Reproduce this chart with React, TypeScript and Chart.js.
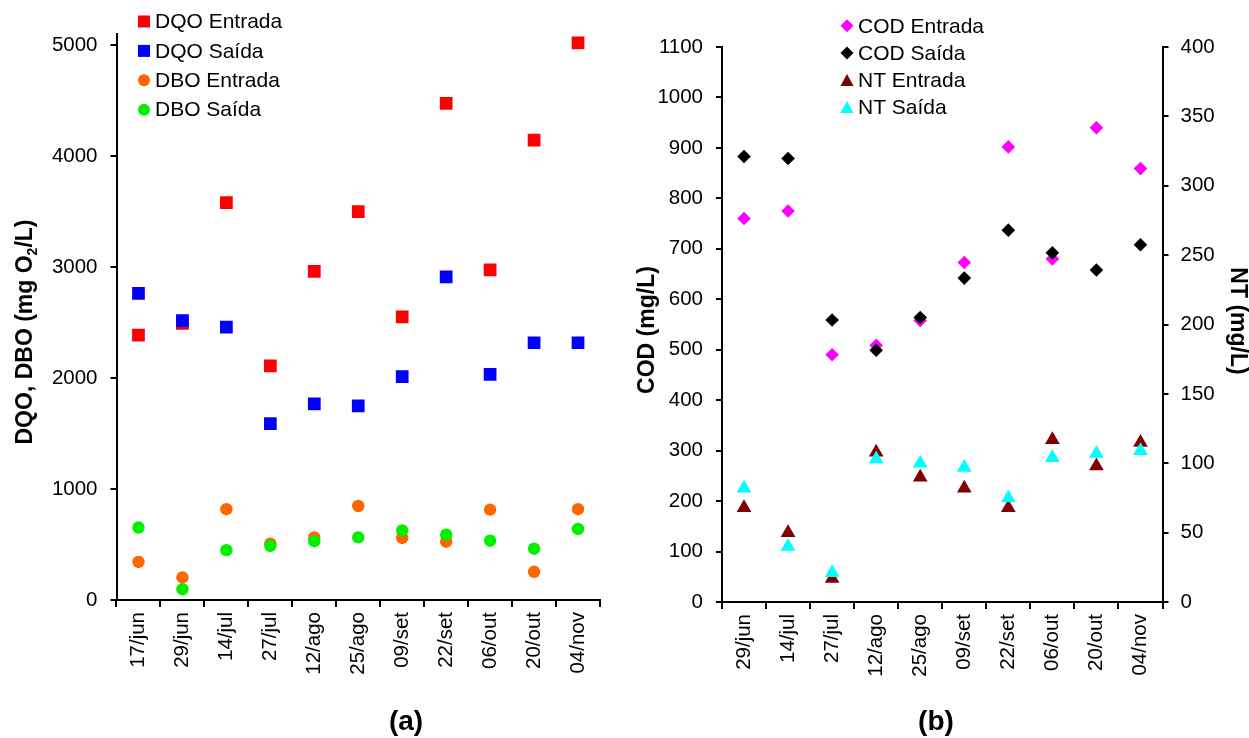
import React, { useEffect, useRef } from 'react';
import { Chart, registerables } from 'chart.js';

Chart.register(...registerables);

// ---------- Data: panel (a) ----------
const labelsA = ['17/jun', '29/jun', '14/jul', '27/jul', '12/ago', '25/ago', '09/set', '22/set', '06/out', '20/out', '04/nov'];
const dqoEntrada = [2386, 2492, 3581, 2110, 2962, 3500, 2551, 4475, 2975, 4144, 5021];
const dqoSaida = [2763, 2517, 2458, 1589, 1767, 1750, 2013, 2911, 2034, 2318, 2318];
const dboEntrada = [343, 203, 818, 508, 564, 847, 559, 525, 814, 254, 818];
const dboSaida = [653, 97, 449, 487, 530, 564, 627, 589, 534, 462, 640];
const yTicksA = [0, 1000, 2000, 3000, 4000, 5000];

// ---------- Data: panel (b) ----------
const labelsB = ['29/jun', '14/jul', '27/jul', '12/ago', '25/ago', '09/set', '22/set', '06/out', '20/out', '04/nov'];
const codEntrada = [760, 775, 490, 509, 558, 673, 902, 680, 940, 859];
const codSaida = [883, 879, 559, 499, 564, 642, 737, 692, 658, 708];
const ntEntrada = [68, 50, 17, 108, 90, 82, 68, 117, 98, 115];
const ntSaida = [82, 40, 21, 103, 100, 97, 75, 104, 107, 109];

const FONT = '"Liberation Sans", Arial, Helvetica, sans-serif';
const TICK_SIZE = 20.5;

type Marker = 'rect' | 'circle' | 'diamond' | 'triangle';

function drawMarker(ctx: CanvasRenderingContext2D, m: Marker, x: number, y: number, s: number, color: string) {
  ctx.save();
  ctx.fillStyle = color;
  ctx.beginPath();
  if (m === 'rect') ctx.rect(x - s / 2, y - s / 2, s, s);
  else if (m === 'circle') ctx.arc(x, y, s / 2, 0, Math.PI * 2);
  else if (m === 'diamond') {
    ctx.moveTo(x, y - s / 2);
    ctx.lineTo(x + s / 2, y);
    ctx.lineTo(x, y + s / 2);
    ctx.lineTo(x - s / 2, y);
    ctx.closePath();
  } else {
    ctx.moveTo(x, y - s / 2);
    ctx.lineTo(x + s * 0.55, y + s / 2);
    ctx.lineTo(x - s * 0.55, y + s / 2);
    ctx.closePath();
  }
  ctx.fill();
  ctx.restore();
}

type Part = { t: string; sub?: boolean };

function drawTitle(ctx: CanvasRenderingContext2D, parts: Part[], cx: number, cy: number, angle: number, size: number) {
  ctx.save();
  ctx.translate(cx, cy);
  ctx.rotate(angle);
  ctx.fillStyle = '#000';
  ctx.textBaseline = 'middle';
  ctx.textAlign = 'left';
  const mainFont = `bold ${size}px ${FONT}`;
  const subFont = `bold ${Math.round(size * 0.62)}px ${FONT}`;
  let total = 0;
  for (const p of parts) {
    ctx.font = p.sub ? subFont : mainFont;
    total += ctx.measureText(p.t).width;
  }
  let x = -total / 2;
  for (const p of parts) {
    ctx.font = p.sub ? subFont : mainFont;
    ctx.fillText(p.t, x, p.sub ? size * 0.3 : 0);
    x += ctx.measureText(p.t).width;
  }
  ctx.restore();
}

type LegendItem = { label: string; marker: Marker; color: string; size: number };

function drawLegend(ctx: CanvasRenderingContext2D, items: LegendItem[], mx: number, tx: number, y0: number, dy: number) {
  ctx.save();
  ctx.font = `21px ${FONT}`;
  ctx.fillStyle = '#000';
  ctx.textBaseline = 'middle';
  ctx.textAlign = 'left';
  items.forEach((it, i) => {
    const y = y0 + i * dy;
    drawMarker(ctx, it.marker, mx, y, it.size, it.color);
    ctx.fillStyle = '#000';
    ctx.fillText(it.label, tx, y + 1);
  });
  ctx.restore();
}

function axisCommon() {
  return {
    border: { display: true, color: '#000', width: 2 },
    grid: { display: true, drawOnChartArea: false, drawTicks: true, tickLength: 7, color: '#000', lineWidth: 2 },
  };
}

const plainNumber = (v: any) => String(v);

export default function App() {
  const refA = useRef<HTMLCanvasElement>(null);
  const refB = useRef<HTMLCanvasElement>(null);

  useEffect(() => {
    const tickFont = { family: FONT, size: TICK_SIZE };

    const legendA: LegendItem[] = [
      { label: 'DQO Entrada', marker: 'rect', color: '#FF0000', size: 12 },
      { label: 'DQO Saída', marker: 'rect', color: '#0000FF', size: 12 },
      { label: 'DBO Entrada', marker: 'circle', color: '#FF6600', size: 12 },
      { label: 'DBO Saída', marker: 'circle', color: '#00F000', size: 12 },
    ];

    const chartA = new Chart(refA.current as HTMLCanvasElement, {
      type: 'line',
      data: {
        labels: labelsA,
        datasets: [
          { label: 'DQO Entrada', data: dqoEntrada, showLine: false, pointStyle: 'rect', pointRadius: 9, pointBackgroundColor: '#FF0000', pointBorderWidth: 0, borderColor: '#FF0000', backgroundColor: '#FF0000', order: 4 },
          { label: 'DQO Saída', data: dqoSaida, showLine: false, pointStyle: 'rect', pointRadius: 9, pointBackgroundColor: '#0000FF', pointBorderWidth: 0, borderColor: '#0000FF', backgroundColor: '#0000FF', order: 3 },
          { label: 'DBO Entrada', data: dboEntrada, showLine: false, pointStyle: 'circle', pointRadius: 6.2, pointBackgroundColor: '#FF6600', pointBorderWidth: 0, borderColor: '#FF6600', backgroundColor: '#FF6600', order: 2 },
          { label: 'DBO Saída', data: dboSaida, showLine: false, pointStyle: 'circle', pointRadius: 6.2, pointBackgroundColor: '#00F000', pointBorderWidth: 0, borderColor: '#00F000', backgroundColor: '#00F000', order: 1 },
        ],
      },
      options: {
        responsive: false,
        animation: false,
        events: [],
        layout: { padding: { left: 0, right: 649, top: 34, bottom: 0 } },
        plugins: { legend: { display: false }, tooltip: { enabled: false } },
        scales: {
          x: {
            type: 'category',
            offset: true,
            ...axisCommon(),
            grid: { ...axisCommon().grid, offset: true },
            ticks: { minRotation: 90, maxRotation: 90, autoSkip: false, font: tickFont, color: '#000', padding: 5 },
            afterFit: (s: any) => { s.height = 138; },
          },
          y: {
            type: 'linear',
            min: 0,
            max: 5100,
            ...axisCommon(),
            grid: { ...axisCommon().grid, tickLength: 6 },
            ticks: { stepSize: 1000, font: tickFont, color: '#000', padding: 13, callback: plainNumber },
            afterBuildTicks: (s: any) => { s.ticks = yTicksA.map((v) => ({ value: v })); },
            afterFit: (s: any) => { s.width = 116.5; },
          },
        },
      },
      plugins: [
        {
          id: 'decorA',
          afterDraw(chart: any) {
            const ctx = chart.ctx as CanvasRenderingContext2D;
            drawLegend(ctx, legendA, 144, 155, 21.5, 29.4);
            drawTitle(ctx, [{ t: 'DQO, DBO (mg O' }, { t: '2', sub: true }, { t: '/L)' }], 26, 332, -Math.PI / 2, 23);
            drawTitle(ctx, [{ t: '(a)' }], 406, 722, 0, 28);
          },
        },
      ],
    } as any);

    const legendB: LegendItem[] = [
      { label: 'COD Entrada', marker: 'diamond', color: '#FF00FF', size: 13 },
      { label: 'COD Saída', marker: 'diamond', color: '#000000', size: 13 },
      { label: 'NT Entrada', marker: 'triangle', color: '#800000', size: 12 },
      { label: 'NT Saída', marker: 'triangle', color: '#00FFFF', size: 12 },
    ];

    const chartB = new Chart(refB.current as HTMLCanvasElement, {
      type: 'line',
      data: {
        labels: labelsB,
        datasets: [
          { label: 'COD Entrada', data: codEntrada, yAxisID: 'y', showLine: false, pointStyle: 'rectRot', pointRadius: 6.8, pointBackgroundColor: '#FF00FF', pointBorderWidth: 0, borderColor: '#FF00FF', backgroundColor: '#FF00FF', order: 4 },
          { label: 'COD Saída', data: codSaida, yAxisID: 'y', showLine: false, pointStyle: 'rectRot', pointRadius: 6.8, pointBackgroundColor: '#000000', pointBorderWidth: 0, borderColor: '#000000', backgroundColor: '#000000', order: 3 },
          { label: 'NT Entrada', data: ntEntrada, yAxisID: 'y2', showLine: false, pointStyle: 'triangle', pointRadius: 8.5, pointBackgroundColor: '#800000', pointBorderWidth: 0, borderColor: '#800000', backgroundColor: '#800000', order: 2 },
          { label: 'NT Saída', data: ntSaida, yAxisID: 'y2', showLine: false, pointStyle: 'triangle', pointRadius: 8.5, pointBackgroundColor: '#00FFFF', pointBorderWidth: 0, borderColor: '#00FFFF', backgroundColor: '#00FFFF', order: 1 },
        ],
      },
      options: {
        responsive: false,
        animation: false,
        events: [],
        layout: { padding: { left: 620, right: 0, top: 47, bottom: 0 } },
        plugins: { legend: { display: false }, tooltip: { enabled: false } },
        scales: {
          x: {
            type: 'category',
            offset: true,
            ...axisCommon(),
            grid: { ...axisCommon().grid, offset: true },
            ticks: { minRotation: 90, maxRotation: 90, autoSkip: false, font: tickFont, color: '#000', padding: 5 },
            afterFit: (s: any) => { s.height = 136; },
          },
          y: {
            type: 'linear',
            position: 'left',
            min: 0,
            max: 1100,
            ...axisCommon(),
            grid: { ...axisCommon().grid, tickLength: 6 },
            ticks: { stepSize: 100, font: tickFont, color: '#000', padding: 13, callback: plainNumber },
            afterFit: (s: any) => { s.width = 102; },
          },
          y2: {
            type: 'linear',
            position: 'right',
            min: 0,
            max: 400,
            ...axisCommon(),
            grid: { ...axisCommon().grid, tickLength: 6 },
            ticks: { stepSize: 50, font: tickFont, color: '#000', padding: 12, callback: plainNumber },
            afterFit: (s: any) => { s.width = 86.5; },
          },
        },
      },
      plugins: [
        {
          id: 'decorB',
          afterDraw(chart: any) {
            const ctx = chart.ctx as CanvasRenderingContext2D;
            drawLegend(ctx, legendB, 847, 858, 25.8, 27.1);
            drawTitle(ctx, [{ t: 'COD (mg/L)' }], 648, 330, -Math.PI / 2, 23);
            drawTitle(ctx, [{ t: 'NT (mg/L)' }], 1237, 321, Math.PI / 2, 23);
            drawTitle(ctx, [{ t: '(b)' }], 936, 722, 0, 28);
          },
        },
      ],
    } as any);

    return () => {
      chartA.destroy();
      chartB.destroy();
    };
  }, []);

  return (
    <div style={{ position: 'fixed', left: 0, top: 0, width: 1249, height: 738, background: '#fff', overflow: 'hidden' }}>
      <canvas ref={refA} width={1249} height={738} style={{ position: 'absolute', left: 0, top: 0 }} />
      <canvas ref={refB} width={1249} height={738} style={{ position: 'absolute', left: 0, top: 0 }} />
    </div>
  );
}
